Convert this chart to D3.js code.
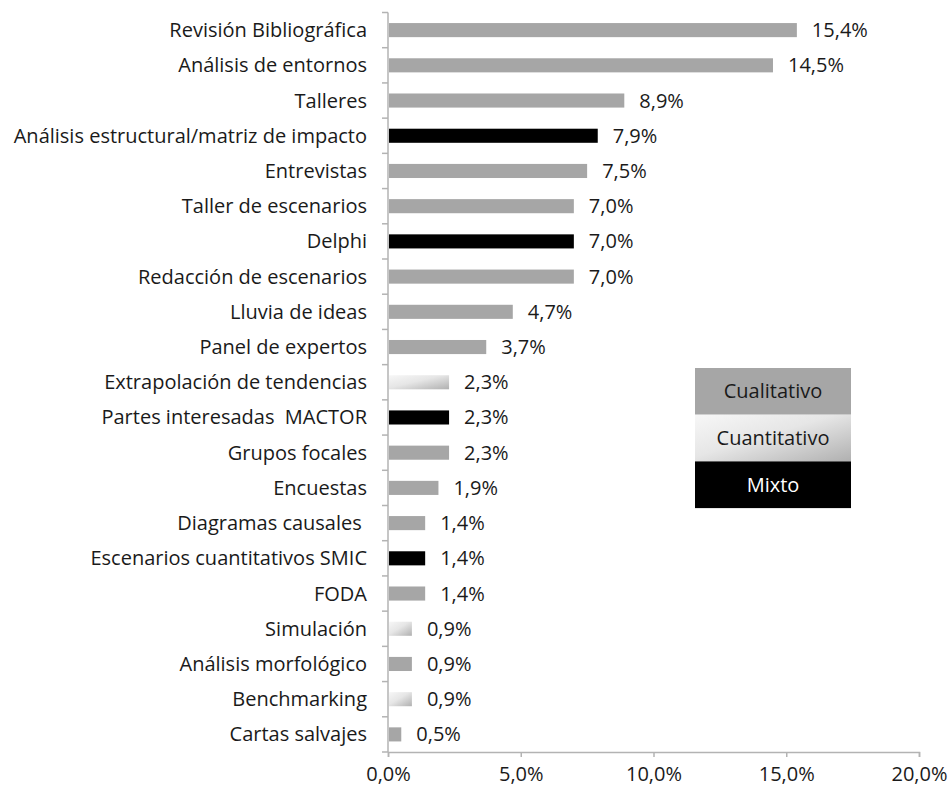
<!DOCTYPE html>
<html>
<head>
<meta charset="utf-8">
<script src="https://cdn.jsdelivr.net/npm/d3@7"></script>
<style>
  body { margin: 0; background: #fff; }
  text { font-family: "Open Sans", Lato, sans-serif; fill: #1a1a1a; }
</style>
</head>
<body>
<div id="chart"></div>
<script>
var svgWidth = 951;
var svgHeight = 789;

// Chart data
var techniques = ["Revisión Bibliográfica", "Análisis de entornos", "Talleres",
  "Análisis estructural/matriz de impacto", "Entrevistas", "Taller de escenarios",
  "Delphi", "Redacción de escenarios", "Lluvia de ideas", "Panel de expertos",
  "Extrapolación de tendencias", "Partes interesadas  MACTOR", "Grupos focales",
  "Encuestas", "Diagramas causales ", "Escenarios cuantitativos SMIC", "FODA",
  "Simulación", "Análisis morfológico", "Benchmarking", "Cartas salvajes"];
var shares = [15.4, 14.5, 8.9, 7.9, 7.5, 7.0, 7.0, 7.0, 4.7, 3.7,
  2.3, 2.3, 2.3, 1.9, 1.4, 1.4, 1.4, 0.9, 0.9, 0.9, 0.5];
var kinds = ["Cualitativo", "Cualitativo", "Cualitativo", "Mixto", "Cualitativo",
  "Cualitativo", "Mixto", "Cualitativo", "Cualitativo", "Cualitativo",
  "Cuantitativo", "Mixto", "Cualitativo", "Cualitativo", "Cualitativo", "Mixto",
  "Cualitativo", "Cuantitativo", "Cualitativo", "Cuantitativo", "Cualitativo"];
var xTicks = [0, 5, 10, 15, 20];
var legendKinds = ["Cualitativo", "Cuantitativo", "Mixto"];

var margin = {top: 12.5, right: 32, bottom: 37, left: 388};
var width = svgWidth - margin.left - margin.right;
var height = svgHeight - margin.top - margin.bottom;

var svg = d3.select("#chart")
  .append("svg")
  .attr("width", svgWidth)
  .attr("height", svgHeight);

// gradient for the quantitative bars
var defs = svg.append("defs");
var grad = defs.append("linearGradient")
  .attr("id", "cuantGrad")
  .attr("x1", 0).attr("y1", 0).attr("x2", 1).attr("y2", 1);
grad.append("stop").attr("offset", "0%").attr("stop-color", "#f7f7f7");
grad.append("stop").attr("offset", "45%").attr("stop-color", "#e6e6e6");
grad.append("stop").attr("offset", "100%").attr("stop-color", "#b0b0b0");

var fills = {
  "Cualitativo": "#a6a6a6",
  "Cuantitativo": "url(#cuantGrad)",
  "Mixto": "#000000"
};

var chartGroup = svg.append("g")
  .attr("transform", `translate(${margin.left}, ${margin.top})`);

var data = techniques.map(function(t, i) {
  return {name: t, value: shares[i], kind: kinds[i]};
});

var xScale = d3.scaleLinear()
  .domain([0, 20])
  .range([0, width]);

var yScale = d3.scaleBand()
  .domain(techniques)
  .range([0, height])
  .paddingInner(0.6)
  .paddingOuter(0.3);

var fmt = function(v) { return d3.format(".1f")(v).replace(".", ",") + "%"; };

// x axis
var bottomAxis = d3.axisBottom(xScale)
  .tickValues(xTicks)
  .tickSize(5)
  .tickFormat(fmt);

var xAxis = chartGroup.append("g")
  .attr("transform", `translate(0, ${height})`)
  .call(bottomAxis);
xAxis.select(".domain").attr("stroke", "#b3b3b3").attr("stroke-width", 1.5);
xAxis.selectAll(".tick line").attr("stroke", "#b3b3b3").attr("stroke-width", 1.5);
xAxis.selectAll(".tick text")
  .attr("y", 15)
  .attr("font-size", "20px")
  .attr("fill", "#1a1a1a");

// y axis with ticks between categories
var yTickPos = d3.range(techniques.length + 1).map(function(i) { return i * height / techniques.length; });

chartGroup.append("line")
  .attr("x1", 0).attr("x2", 0)
  .attr("y1", 0).attr("y2", height)
  .attr("stroke", "#b3b3b3")
  .attr("stroke-width", 1.5);

chartGroup.selectAll(".ytick")
  .data(yTickPos)
  .enter()
  .append("line")
  .attr("class", "ytick")
  .attr("x1", -6).attr("x2", 0)
  .attr("y1", d => d).attr("y2", d => d)
  .attr("stroke", "#b3b3b3")
  .attr("stroke-width", 1.5);

chartGroup.selectAll(".ylabel")
  .data(data)
  .enter()
  .append("text")
  .attr("class", "ylabel")
  .attr("x", -21)
  .attr("y", d => yScale(d.name) + yScale.bandwidth() / 2)
  .attr("dy", ".35em")
  .attr("text-anchor", "end")
  .attr("font-size", "20px")
  .style("white-space", "pre")
  .text(d => d.name);

// bars
chartGroup.selectAll(".bar")
  .data(data)
  .enter()
  .append("rect")
  .attr("class", "bar")
  .attr("x", 1)
  .attr("y", d => yScale(d.name))
  .attr("width", d => xScale(d.value) - 1)
  .attr("height", yScale.bandwidth())
  .attr("fill", d => fills[d.kind]);

// value labels
chartGroup.selectAll(".vlabel")
  .data(data)
  .enter()
  .append("text")
  .attr("class", "vlabel")
  .attr("x", d => xScale(d.value) + 15)
  .attr("y", d => yScale(d.name) + yScale.bandwidth() / 2)
  .attr("dy", ".35em")
  .attr("font-size", "20px")
  .text(d => fmt(d.value));

// legend
var legendBox = {x: 695, y: 368, w: 156, h: 46.7};
var legend = svg.append("g");
legend.selectAll("rect")
  .data(legendKinds)
  .enter()
  .append("rect")
  .attr("x", legendBox.x)
  .attr("y", (d, i) => legendBox.y + i * legendBox.h)
  .attr("width", legendBox.w)
  .attr("height", legendBox.h)
  .attr("fill", d => fills[d]);

legend.selectAll("text")
  .data(legendKinds)
  .enter()
  .append("text")
  .attr("x", legendBox.x + legendBox.w / 2)
  .attr("y", (d, i) => legendBox.y + i * legendBox.h + legendBox.h / 2)
  .attr("dy", ".35em")
  .attr("text-anchor", "middle")
  .attr("font-size", "20px")
  .style("fill", d => d === "Mixto" ? "#ffffff" : "#1a1a1a")
  .text(d => d);
</script>
</body>
</html>
